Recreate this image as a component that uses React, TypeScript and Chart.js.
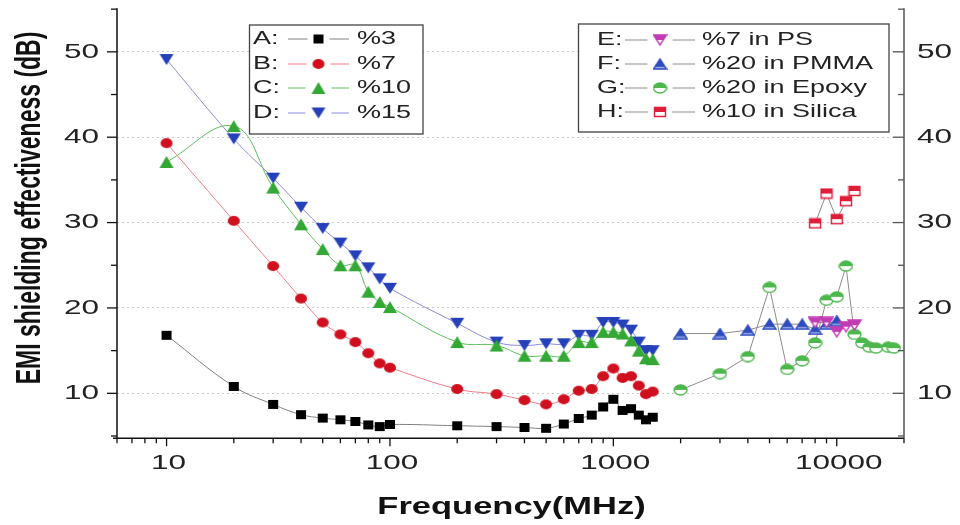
import React, { useEffect, useRef } from 'react';
import { Chart, registerables } from 'chart.js';

Chart.register(...registerables);

// ---------------- data ----------------
const freqAD = [10, 20, 30, 40, 50, 60, 70, 80, 90, 100, 200, 300, 400, 500, 600, 700, 800, 900, 1000, 1100, 1200, 1300, 1400, 1500];
const seriesA = [16.8, 10.8, 8.7, 7.5, 7.1, 6.9, 6.7, 6.3, 6.1, 6.35, 6.2, 6.1, 6.0, 5.9, 6.4, 7.05, 7.45, 8.4, 9.3, 8.0, 8.2, 7.45, 6.9, 7.2];
const seriesB = [39.3, 30.2, 24.9, 21.1, 18.3, 16.9, 16.0, 14.7, 13.5, 13.0, 10.5, 9.9, 9.2, 8.7, 9.3, 10.3, 10.5, 12.0, 12.9, 11.8, 12.0, 10.9, 9.9, 10.2];
const seriesC = [37.1, 41.3, 34.1, 29.8, 26.9, 25.0, 25.0, 21.9, 20.7, 20.1, 16.0, 15.6, 14.4, 14.4, 14.4, 16.0, 16.0, 17.2, 17.2, 17.0, 16.2, 15.0, 14.1, 14.0];
const seriesD = [49.1, 39.8, 35.2, 31.8, 29.3, 27.6, 26.1, 24.7, 23.4, 22.3, 18.2, 16.0, 15.6, 15.8, 15.8, 16.8, 16.8, 18.3, 18.3, 18.0, 17.4, 16.0, 15.0, 15.0];

const freqE = [8000, 9000, 10000, 11000, 12000];
const seriesE = [18.3, 18.3, 17.2, 17.8, 18.0];
const freqF = [2000, 3000, 4000, 5000, 6000, 7000, 8000, 9000, 10000];
const seriesF = [17.0, 17.0, 17.4, 18.1, 18.1, 18.1, 17.5, 18.1, 18.5];
const freqG = [2000, 3000, 4000, 5000, 6000, 7000, 8000, 9000, 10000, 11000, 12000, 13000, 14000, 15000, 17000, 18000];
const seriesG = [10.4, 12.3, 14.3, 22.4, 12.8, 13.8, 15.9, 20.9, 21.3, 24.9, 16.9, 15.9, 15.4, 15.3, 15.4, 15.3];
const freqH = [8000, 9000, 10000, 11000, 12000];
const seriesH = [29.9, 33.4, 30.4, 32.5, 33.7];

const seriesLetters = ['A:', 'B:', 'C:', 'D:', 'E:', 'F:', 'G:', 'H:'];
const seriesNames = ['%3', '%7', '%10', '%15', '%7 in PS', '%20 in PMMA', '%20 in Epoxy', '%10 in Silica'];

const yTickValues = [5, 10, 15, 20, 25, 30, 35, 40, 45, 50, 55];
const yLabelValues = [10, 20, 30, 40, 50];
const xLabelValues = [10, 100, 1000, 10000];
const xLabels = ['10', '100', '1000', '10000'];

const xTitle = 'Frequency(MHz)';
const yTitle = 'EMI shielding effectiveness (dB)';

// ---------------- styles ----------------
const FONT = '"Liberation Sans", Arial, Helvetica, sans-serif';
const SX = 1.5; // horizontal stretch of the reference's text
const lineColors = ['#808080', '#f07c86', '#5cbf5c', '#8a8ae0', '#8c8c8c', '#8c8c8c', '#8c8c8c', '#8c8c8c'];

function mk(w: number, h: number, draw: (c: CanvasRenderingContext2D, w: number, h: number) => void) {
  const cv = document.createElement('canvas');
  cv.width = w + 2;
  cv.height = h + 2;
  const c = cv.getContext('2d')!;
  c.translate(1, 1);
  draw(c, w, h);
  return cv;
}

function triUp(c: CanvasRenderingContext2D, w: number, h: number) {
  c.beginPath();
  c.moveTo(w / 2, 0);
  c.lineTo(w, h);
  c.lineTo(0, h);
  c.closePath();
}
function triDown(c: CanvasRenderingContext2D, w: number, h: number) {
  c.beginPath();
  c.moveTo(0, 0);
  c.lineTo(w, 0);
  c.lineTo(w / 2, h);
  c.closePath();
}
function ell(c: CanvasRenderingContext2D, w: number, h: number) {
  c.beginPath();
  c.ellipse(w / 2, h / 2, w / 2, h / 2, 0, 0, Math.PI * 2);
}
function box(c: CanvasRenderingContext2D, w: number, h: number) {
  c.beginPath();
  c.rect(0.5, 0.5, w - 1, h - 1);
}

function partFilled(path: (c: CanvasRenderingContext2D, w: number, h: number) => void, color: string, frac: number, light: string) {
  return (c: CanvasRenderingContext2D, w: number, h: number) => {
    path(c, w, h);
    c.fillStyle = light;
    c.fill();
    c.save();
    path(c, w, h);
    c.clip();
    c.fillStyle = color;
    c.fillRect(-1, -1, w + 2, h * frac + 1);
    c.restore();
    path(c, w, h);
    c.strokeStyle = color;
    c.lineWidth = 1.4;
    c.stroke();
  };
}

function makeMarkers() {
  return [
    mk(10, 9, (c, w, h) => { c.fillStyle = '#000'; c.fillRect(0, 0, w, h); }),
    mk(12, 10, (c, w, h) => { ell(c, w, h); c.fillStyle = '#d0101e'; c.fill(); }),
    mk(14, 12, (c, w, h) => { triUp(c, w, h); c.fillStyle = '#34a834'; c.fill(); }),
    mk(14, 11, (c, w, h) => { triDown(c, w, h); c.fillStyle = '#2540b8'; c.fill(); }),
    mk(13, 10, partFilled(triDown, '#c23cb6', 0.5, '#ffffff')),
    mk(13, 10, partFilled(triUp, '#2e4cc0', 0.78, '#9eaae6')),
    mk(13, 10, partFilled(ell, '#4cb84c', 0.5, '#ffffff')),
    mk(12, 10, partFilled(box, '#e01e3a', 0.5, '#ffffff')),
  ];
}

function stretchedText(
  ctx: CanvasRenderingContext2D, text: string, x: number, y: number,
  font: string, align: CanvasTextAlign, color: string, rotate = false,
) {
  ctx.save();
  ctx.translate(x, y);
  ctx.scale(SX, 1);
  if (rotate) ctx.rotate(-Math.PI / 2);
  ctx.font = font;
  ctx.textAlign = align;
  ctx.textBaseline = 'middle';
  ctx.fillStyle = color;
  ctx.fillText(text, 0, 0);
  ctx.restore();
}

export default function App() {
  const ref = useRef<HTMLCanvasElement | null>(null);

  useEffect(() => {
    if (!ref.current) return;
    const markers = makeMarkers();

    const toPts = (xs: number[], ys: number[]) => xs.map((x, i) => ({ x, y: ys[i] }));
    const allX = [freqAD, freqAD, freqAD, freqAD, freqE, freqF, freqG, freqH];
    const allY = [seriesA, seriesB, seriesC, seriesD, seriesE, seriesF, seriesG, seriesH];

    const datasets = allY.map((ys, i) => ({
      label: seriesNames[i],
      data: toPts(allX[i], ys),
      borderColor: lineColors[i],
      backgroundColor: lineColors[i],
      borderWidth: 1,
      pointStyle: markers[i] as any,
      pointRadius: 5,
      tension: i < 4 ? 0.4 : 0,
      fill: false,
    }));

    const axesPlugin = {
      id: 'originAxes',
      afterDatasetsDraw(chart: any) {
        const ctx: CanvasRenderingContext2D = chart.ctx;
        const a = chart.chartArea;
        const xs = chart.scales.x;
        const ys = chart.scales.y;
        ctx.save();
        // axis lines
        ctx.lineWidth = 1.5;
        ctx.strokeStyle = '#111';
        ctx.beginPath();
        ctx.moveTo(a.left, a.top);
        ctx.lineTo(a.left, a.bottom);
        ctx.moveTo(a.left - 4, a.bottom);
        ctx.lineTo(a.right, a.bottom);
        ctx.stroke();
        ctx.strokeStyle = '#555';
        ctx.beginPath();
        ctx.moveTo(a.right, a.top);
        ctx.lineTo(a.right, a.bottom);
        ctx.stroke();

        // y ticks (left outward, right inward)
        ctx.lineWidth = 1.3;
        for (const v of yTickValues) {
          const py = ys.getPixelForValue(v);
          const major = v % 10 === 0;
          ctx.strokeStyle = '#111';
          ctx.beginPath();
          ctx.moveTo(a.left, py);
          ctx.lineTo(a.left - (major ? 10 : 6), py);
          ctx.stroke();
          ctx.strokeStyle = '#555';
          ctx.beginPath();
          ctx.moveTo(a.right, py);
          ctx.lineTo(a.right - (major ? 11 : 6), py);
          ctx.stroke();
        }
        // x ticks
        ctx.strokeStyle = '#111';
        for (let d = 1; d <= 10000; d *= 10) {
          for (let m = 1; m <= 9; m++) {
            const v = m * d;
            if (v < xs.min || v > xs.max) continue;
            const px = xs.getPixelForValue(v);
            const major = m === 1;
            ctx.beginPath();
            ctx.moveTo(px, a.bottom);
            ctx.lineTo(px, a.bottom + (major ? 8 : 5));
            ctx.stroke();
          }
        }
        // tick labels
        const tf = `21px ${FONT}`;
        for (const v of yLabelValues) {
          const py = ys.getPixelForValue(v);
          stretchedText(ctx, String(v), a.left - 18, py, tf, 'right', '#222');
          stretchedText(ctx, String(v), a.right + 13, py, tf, 'left', '#222');
        }
        xLabelValues.forEach((v, i) => {
          const px = xs.getPixelForValue(v);
          stretchedText(ctx, xLabels[i], px + 2, a.bottom + 25, tf, 'center', '#222');
        });
        // titles
        const bf = `bold 23px ${FONT}`;
        stretchedText(ctx, xTitle, (a.left + a.right) / 2 + 1, a.bottom + 69, bf, 'center', '#111');
        stretchedText(ctx, yTitle, 30, 208, bf, 'center', '#111', true);

        // legends
        const drawLegend = (bx: number, by: number, bw: number, bh: number, idx: number[], rowY: number[],
          lx: number, l1: number, l2: number, tx: number) => {
          ctx.fillStyle = '#fff';
          ctx.fillRect(bx, by, bw, bh);
          ctx.strokeStyle = '#444';
          ctx.lineWidth = 1.3;
          ctx.strokeRect(bx, by, bw, bh);
          const lf = `18px ${FONT}`;
          idx.forEach((si, r) => {
            const y = rowY[r];
            stretchedText(ctx, seriesLetters[si], lx, y, lf, 'left', '#222');
            ctx.strokeStyle = lineColors[si];
            ctx.lineWidth = 1;
            ctx.beginPath();
            ctx.moveTo(l1, y);
            ctx.lineTo(l2, y);
            ctx.stroke();
            const mkc = markers[si];
            const mx = (l1 + l2) / 2;
            ctx.fillStyle = '#fff';
            ctx.fillRect(mx - mkc.width / 2 - 5, y - mkc.height / 2, mkc.width + 10, mkc.height);
            ctx.drawImage(mkc, mx - mkc.width / 2, y - mkc.height / 2);
            stretchedText(ctx, seriesNames[si], tx, y, lf, 'left', '#222');
          });
        };
        drawLegend(249.5, 25, 173.5, 109, [0, 1, 2, 3], [39, 64, 88, 113], 253, 288, 349, 357);
        drawLegend(578.5, 24, 310.5, 108, [4, 5, 6, 7], [40, 64, 88, 112], 597, 625, 695, 702);
        ctx.restore();
      },
    };

    const chart = new Chart(ref.current, {
      type: 'line',
      data: { datasets: datasets as any },
      options: {
        responsive: false,
        animation: false,
        layout: { padding: { left: 117, right: 56, top: 8.3, bottom: 86.7 } },
        plugins: { legend: { display: false }, tooltip: { enabled: false } },
        scales: {
          x: {
            type: 'logarithmic',
            min: 6,
            max: 20000,
            ticks: { display: false },
            grid: { display: false },
            border: { display: false },
            afterFit: (s: any) => { s.height = 0; },
          },
          y: {
            type: 'linear',
            min: 4.73,
            max: 55.1,
            ticks: { display: false },
            grid: {
              drawTicks: false,
              lineWidth: 1,
              color: (c: any) => (c.tick && c.tick.value % 10 === 0 ? '#c6c8d4' : 'rgba(0,0,0,0)'),
            },
            border: { display: false, dash: [2, 3] },
            afterFit: (s: any) => { s.width = 0; },
            afterBuildTicks: (s: any) => { s.ticks = yTickValues.map((v) => ({ value: v })); },
          },
        },
      } as any,
      plugins: [axesPlugin],
    });
    return () => chart.destroy();
  }, []);

  return (
    <div style={{ position: 'absolute', left: 0, top: 0, width: 960, height: 525, background: '#fff' }}>
      <canvas ref={ref} width={960} height={525} style={{ display: 'block' }} />
    </div>
  );
}
